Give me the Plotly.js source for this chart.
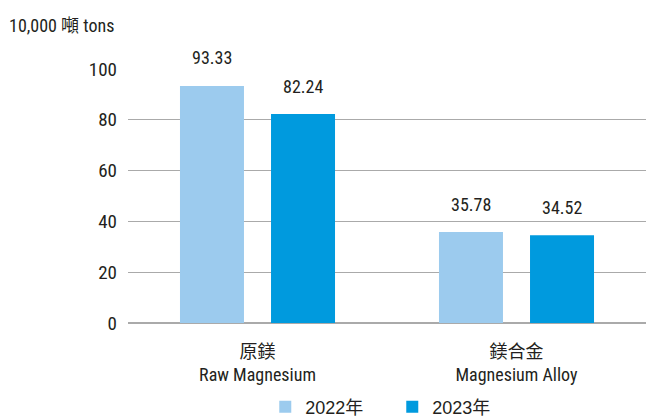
<!DOCTYPE html>
<html>
<head>
<meta charset="utf-8">
<script src="https://cdn.plot.ly/plotly-3.0.1.min.js"></script>
<style>html,body{margin:0;padding:0;background:#fff;}#chart{width:646px;height:417px;}</style>
</head>
<body>
<div id="chart"></div>
<script>
const categories = ["原鎂<br>Raw Magnesium", "鎂合金<br>Magnesium Alloy"];
const years = ["2022年", "2023年"];
const values2022 = [93.33, 35.78];
const values2023 = [82.24, 34.52];
const yTicks = [0, 20, 40, 60, 80, 100];
const unitLabel = "10,000 噸 tons";

const condensed = "'Roboto Condensed', 'Noto Sans CJK TC', sans-serif";
const txt = "#231f20";

function barTrace(vals, name, color) {
  return {
    type: "bar",
    x: categories,
    y: vals,
    name: name,
    marker: {color: color},
    cliponaxis: false,
    hoverinfo: "none"
  };
}

const data = [
  barTrace(values2022, years[0], "#9ccbee"),
  barTrace(values2023, years[1], "#009ade")
];

// value labels above bars (positioned via axis scales, shifted to the grouped bar slots)
const labelAnnotations = [];
[values2022, values2023].forEach((vals, si) => {
  vals.forEach((v, ci) => {
    labelAnnotations.push({
      x: categories[ci], y: v, xref: "x", yref: "y",
      text: v.toFixed(2),
      showarrow: false,
      xanchor: "center", yanchor: "middle",
      xshift: si === 0 ? -45.5 : 45.5,
      yshift: 28,
      font: {family: condensed, size: 18, color: txt}
    });
  });
});

const layout = {
  width: 646, height: 417,
  margin: {l: 128, r: 0, t: 69, b: 94, autoexpand: false},
  paper_bgcolor: "#fff", plot_bgcolor: "#fff",
  barmode: "group",
  bargap: 0.297,
  bargroupgap: 0.297,
  font: {family: condensed, color: txt},
  xaxis: {
    type: "category",
    range: [-0.5, 1.5],
    showgrid: false,
    showline: false,
    ticks: "",
    ticklabelstandoff: 16,
    tickfont: {family: condensed, size: 18, color: txt}
  },
  yaxis: {
    range: [0, 100],
    tickvals: yTicks,
    showgrid: true,
    gridcolor: "#aaaaaa",
    gridwidth: 1.3,
    zeroline: true,
    zerolinecolor: "#aaaaaa",
    zerolinewidth: 1.3,
    ticks: "",
    ticklabelstandoff: 10,
    tickfont: {family: condensed, size: 19, color: txt}
  },
  showlegend: true,
  legend: {
    orientation: "h",
    x: 0.265, xanchor: "left",
    y: -0.258, yanchor: "top",
    bgcolor: "rgba(0,0,0,0)",
    font: {family: "'Liberation Sans', Arial, 'Noto Sans CJK TC', sans-serif", size: 18, color: txt},
    itemwidth: 30,
    entrywidth: 82,
    entrywidthmode: "pixels",
    traceorder: "normal"
  },
  annotations: labelAnnotations.concat([{
    text: unitLabel,
    xref: "paper", yref: "paper",
    x: 0, y: 1,
    xanchor: "left", yanchor: "bottom",
    xshift: -121, yshift: 31,
    showarrow: false,
    font: {family: condensed, size: 18, color: txt}
  }])
};

Plotly.newPlot("chart", data, layout, {displayModeBar: false, staticPlot: true});
</script>
</body>
</html>
